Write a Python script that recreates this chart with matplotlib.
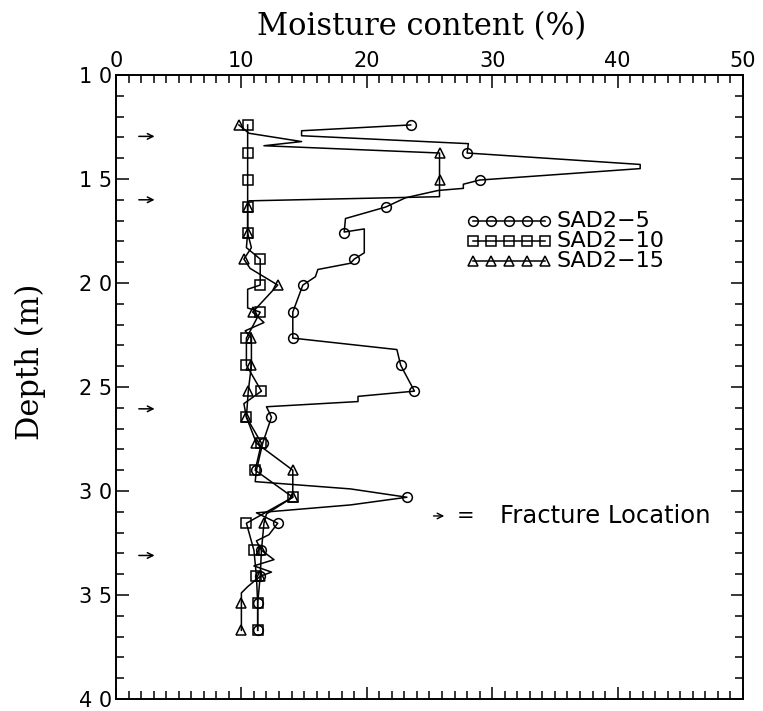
import numpy as np
import matplotlib.pyplot as plt

# sample depths (m) shared by the three boreholes
sample_depth = [12.4, 13.75, 15.05, 16.35, 17.6, 18.85, 20.1, 21.4, 22.65, 23.95,
                25.2, 26.45, 27.7, 29.0, 30.3, 31.55, 32.85, 34.1, 35.4, 36.7]

# moisture content (%) at each sample depth
sad2_5 = [23.5, 28.0, 29.0, 21.5, 18.2, 19.0, 14.9, 14.1, 14.1, 22.7,
          23.8, 12.4, 11.7, 11.2, 23.2, 12.9, 11.6, 11.5, 11.3, 11.3]
sad2_10 = [10.5, 10.5, 10.5, 10.5, 10.5, 11.5, 11.5, 11.5, 10.4, 10.4,
           11.6, 10.4, 11.6, 11.1, 14.1, 10.4, 11.0, 11.2, 11.3, 11.3]
sad2_15 = [9.8, 25.8, 25.8, 10.5, 10.5, 10.2, 12.9, 10.9, 10.8, 10.8,
           10.55, 10.4, 11.2, 14.1, 14.1, 11.8, 11.6, 11.5, 10.0, 10.0]

# continuous profile traces (moisture %, depth m)
trace_5_x = [23.5, 14.8, 14.8, 28.1, 28.0, 41.8, 41.8, 29.0, 27.7, 27.7, 25.7, 23.1,
             21.5, 18.3, 18.2, 19.8, 19.8, 19.0, 18.7, 16.1, 15.9, 14.9, 14.1, 14.1,
             22.4, 22.7, 23.8, 19.3, 19.3, 12.0, 12.4, 11.7, 11.2, 11.1, 18.7, 23.2,
             18.7, 11.2, 12.9, 12.2, 11.2, 11.6, 12.6, 11.0, 12.4, 11.5, 11.3, 11.3]
trace_5_d = [12.4, 12.68, 12.92, 13.3, 13.75, 14.3, 14.5, 15.05, 15.25, 15.45, 15.55, 15.9,
             16.35, 16.9, 17.55, 17.4, 18.55, 18.85, 19.05, 19.35, 19.7, 20.1, 21.4, 22.65,
             23.2, 23.95, 25.2, 25.45, 25.7, 25.95, 26.45, 27.7, 29.0, 29.55, 29.9, 30.3,
             30.67, 31.05, 31.55, 32.1, 32.4, 32.85, 33.3, 33.6, 33.9, 34.1, 35.4, 36.7]

trace_10_x = [10.5, 10.5, 10.5, 10.5, 10.5, 10.4, 11.5, 11.5, 10.5, 10.5, 11.5, 10.4,
              10.4, 11.6, 10.2, 10.4, 11.6, 11.1, 14.1, 10.4, 11.0, 11.2, 11.3, 11.3]
trace_10_d = [12.4, 13.75, 15.05, 16.35, 17.6, 18.3, 18.85, 20.1, 20.3, 21.2, 21.4, 22.65,
              23.95, 25.2, 25.8, 26.45, 27.7, 29.0, 30.3, 31.55, 32.85, 34.1, 35.4, 36.7]

trace_15_x = [9.8, 10.6, 14.8, 11.8, 25.8, 25.8, 25.8, 10.6, 10.5, 10.5, 10.8, 10.2,
              10.7, 12.9, 10.9, 11.8, 10.3, 10.8, 10.8, 10.55, 10.4, 11.2, 14.1, 14.1,
              12.0, 11.8, 11.6, 11.5, 10.5, 10.0, 10.0, 10.0]
trace_15_d = [12.4, 12.8, 13.2, 13.4, 13.75, 15.05, 15.85, 16.05, 16.35, 17.6, 18.3, 18.85,
              19.3, 20.1, 21.4, 21.9, 22.3, 22.65, 23.95, 25.2, 26.45, 27.7, 29.0, 30.3,
              31.1, 31.55, 32.85, 34.1, 34.6, 34.9, 35.4, 36.7]

# depths of fractures
fracture_depth = [12.95, 16.0, 26.05, 33.1]

labels = ['SAD2\u22125', 'SAD2\u221210', 'SAD2\u221215']
markers = ['o', 's', '^']

fig = plt.figure(figsize=(7.63, 7.11), dpi=100)
ax = fig.add_axes([0.152, 0.0169, 0.8218, 0.8776])

traces = [(trace_5_x, trace_5_d), (trace_10_x, trace_10_d), (trace_15_x, trace_15_d)]
values = [sad2_5, sad2_10, sad2_15]
for (tx, td), v, m in zip(traces, values, markers):
    ax.plot(tx, td, color='black', lw=1.1)
    ax.plot(v, sample_depth, ls='none', marker=m, ms=7, mfc='none', mec='black', mew=1.1)

# fracture arrows on the left
for d in fracture_depth:
    ax.annotate('', xy=(3.3, d), xytext=(1.6, d),
                arrowprops=dict(arrowstyle='->', color='black', lw=1.1))

# hand made legend
leg_rows = [0.7660, 0.7340, 0.7020]
for row, m, lab in zip(leg_rows, markers, labels):
    xs = np.linspace(0.569, 0.684, 5)
    ax.plot(xs, [row] * 5, color='black', lw=1.1, marker=m, ms=7, mfc='none',
            mec='black', mew=1.1, transform=ax.transAxes, clip_on=False)
    ax.text(0.703, row, lab, transform=ax.transAxes, va='center', ha='left', fontsize=16)

ax.annotate('', xy=(26.4, 31.2), xytext=(25.1, 31.2),
            arrowprops=dict(arrowstyle='->', color='black', lw=1.0))
ax.text(27.9, 31.2, '=', va='center', ha='center', fontsize=15)
ax.text(30.6, 31.2, 'Fracture Location', va='center', ha='left', fontsize=17.5)

ax.set_xlim(0, 50)
ax.set_ylim(40, 10)

# moisture axis on top
ax.xaxis.set_ticks_position('both')
ax.xaxis.set_label_position('top')
ax.tick_params(axis='x', labeltop=True, labelbottom=False)
ax.set_xticks(np.arange(0, 51, 10))
ax.set_xticks(np.arange(0, 51, 1), minor=True)
ax.set_yticks(np.arange(10, 41, 5))
ax.set_yticks(np.arange(10, 41, 1), minor=True)
ax.set_yticklabels(['1 0', '1 5', '2 0', '2 5', '3 0', '3 5', '4 0'])
ax.yaxis.set_ticks_position('both')
ax.tick_params(which='both', direction='in', width=1.1, labelsize=15, pad=3)
ax.tick_params(which='major', length=9)
ax.tick_params(which='minor', length=6)
for s in ax.spines.values():
    s.set_linewidth(1.4)

fig.text(0.552, 0.962, 'Moisture content (%)', ha='center', va='center',
         family='DejaVu Serif', fontsize=22)
fig.text(0.040, 0.491, 'Depth (m)', ha='center', va='center', rotation=90,
         family='DejaVu Serif', fontsize=22)

fig.savefig('out.png', dpi=100)
